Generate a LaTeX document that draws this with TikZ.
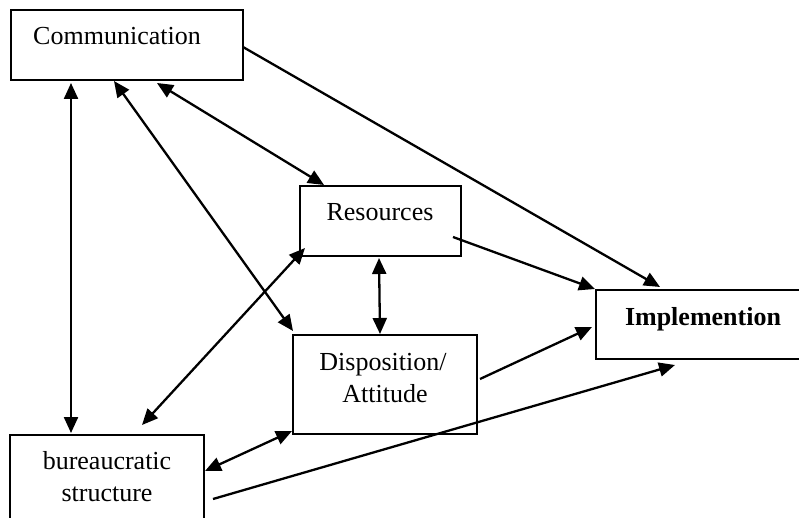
\documentclass[tikz,border=0pt]{standalone}
\usepackage{fontspec}
\setmainfont{Liberation Serif}
\usetikzlibrary{arrows.meta,calc}
\begin{document}
\begin{tikzpicture}[x=1pt,y=-1pt,
  box/.style={draw,line width=1.8pt,rectangle,anchor=north west,inner sep=0pt,outer sep=0pt},
  lbl/.style={anchor=base,inner sep=0pt,font=\fontsize{26}{32}\selectfont},
  conn/.style={line width=2.3pt,-{Triangle[length=16pt,width=14pt]}},
  both/.style={line width=2.3pt,{Triangle[length=16pt,width=14pt]}-{Triangle[length=16pt,width=14pt]}}]
\useasboundingbox (0,0) rectangle (799,518);
\clip (0,0) rectangle (799,518);
% boxes
\node[box,minimum width=232pt,minimum height=70pt] (comm) at (11,10) {};
\node[box,minimum width=161pt,minimum height=70pt] (res) at (300,186) {};
\node[box,minimum width=184pt,minimum height=99pt] (disp) at (293,335) {};
\node[box,minimum width=240pt,minimum height=69pt] (impl) at (596,290) {};
\node[box,minimum width=194pt,minimum height=120pt] (bur) at (10,435) {};
% labels
\node[lbl] (tcomm) at (117,45) {Communication};
\node[lbl] (tres) at (380,221) {Resources};
\node[lbl] (tdisp1) at (383,370) {Disposition/};
\node[lbl] (tdisp2) at (385,402) {Attitude};
\node[lbl] (tbur1) at (107,469) {bureaucratic};
\node[lbl] (tbur2) at (107,501) {structure};
\node[lbl,font=\fontsize{26}{32}\selectfont\bfseries] (timpl) at (703,325) {Implemention};
% connectors
\draw[both] ($(comm.south west)+(60,3)$) -- ($(bur.north west)+(61,-2)$);
\draw[both] ($(comm.south west)+(103,1)$) -- ($(disp.north west)+(0,-4)$);
\draw[both] ($(comm.south west)+(146,3)$) -- ($(res.north west)+(24,-1)$);
\draw[conn] ($(comm.north east)+(0,37)$) -- ($(impl.north west)+(64,-3)$);
\draw[conn] ($(res.north east)+(-8,51)$) -- ($(impl.north west)+(-1,-1)$);
\draw[both] ($(res.south west)+(79,2)$) -- ($(disp.north west)+(87,-1)$);
\draw[both] ($(res.south west)+(5,-8)$) -- ($(bur.north west)+(132,-10)$);
\draw[conn] ($(disp.north east)+(3,44)$) -- ($(impl.south west)+(-4,-32)$);
\draw[both] ($(bur.north east)+(1,36)$) -- ($(disp.south west)+(-1,-3)$);
\draw[conn] ($(bur.north east)+(9,64)$) -- ($(impl.south west)+(79,6)$);
\end{tikzpicture}
\end{document}
